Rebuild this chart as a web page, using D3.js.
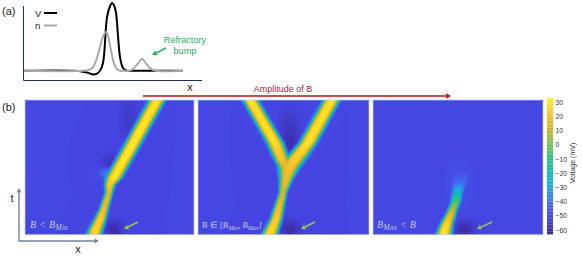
<!DOCTYPE html>
<html>
<head>
<meta charset="utf-8">
<script src="https://cdn.jsdelivr.net/npm/d3@7"></script>
<style>
  html, body { margin: 0; padding: 0; background: #fff; }
  svg { display: block; }
  text { font-family: "Liberation Sans", Arial, sans-serif; }
</style>
</head>
<body>
<svg id="chart" width="582" height="257"></svg>
<script>
// panel (a) traces
const traceX = [0, 50, 60, 66, 70, 74, 77, 80, 84, 87, 89, 91, 93, 95, 97, 100, 104, 108, 160];
const traceV = [0, 0, -1, -2.5, -4, -3, 0, 8.5, 58, 70, 73.5, 71, 63, 38, 15, 3, 0, 0, 0];
const nX = [0, 60, 66, 70, 74, 77, 80, 83, 85, 88, 91, 94, 97, 100, 106, 110, 115, 119, 123, 128, 133, 160];
const nV = [0, 0, 1, 4, 14, 26, 37, 42, 38, 22, 8, 2, 0, 0, 0, 2, 8, 13, 8, 2, 0, 0];

// panel (b) ridges: [t, x, half width, peak mV]
const ridgeLow = [
  [-4, 68, 7.5, 28], [15, 76, 5.5, 24], [26, 80, 4.2, 18], [42, 85, 3.6, 14], [50, 86, 5, 22],
  [57, 90, 7.5, 30], [89, 108, 7.5, 31], [139, 136, 7.5, 29]
];
const ridgeMidStem = [
  [-4, 70, 7.5, 28], [15, 78, 5.5, 24], [42, 85, 3.6, 12], [55, 88, 6, 18], [68, 91, 10, 21]
];
const ridgeMidRight = [
  [59, 89, 6, 15], [70, 93, 10, 22], [92, 110, 8, 29], [139, 136, 7.5, 29]
];
const ridgeMidLeft = [
  [66, 88, 6, 12], [75, 84, 7, 21], [92, 77, 7.5, 28], [139, 50, 7, 29]
];
const ridgeHigh = [
  [-4, 70, 7.5, 31], [10, 74, 6, 26], [22, 79, 4.5, 14], [32, 83, 4.5, -2],
  [42, 85, 5, -22], [52, 87, 7, -42], [62, 89, 9, -48]
];

// dark and light patches: [x, t, spread x, spread t, mV]
const patchLow = [[90, 5, 9, 9, -12], [85, 72, 7, 10, -8], [105, 115, 8, 25, -6], [82, 62, 6, 5, 14]];
const patchMid = [[92, 5, 10, 9, -12], [92, 95, 10, 28, -10]];
const patchHigh = [[92, 5, 10, 9, -12], [88, 50, 25, 40, 1.5]];

const colorTicks = [30, 20, 10, 0, -10, -20, -30, -40, -50, -60];
const colorStops = [-63, -57, -50, -42, -35, -28, -20, -10, 0, 10, 20, 32];
const colorValues = ['#3a2a9c', '#4038c4', '#4545e2', '#4468f0', '#2f8fe8', '#16aedc', '#10bdb0', '#2cc286', '#72c25a', '#c8b52c', '#f8bc30', '#fdf01c'];

const baseline = -50;
const svg = d3.select('#chart');
const navy = '#22305a';

const color = d3.scaleLinear().domain(colorStops).range(colorValues).clamp(true);

// -------- panel (a)
const ax = d3.scaleLinear().domain([0, 160]).range([23, 183]);
const ay = d3.scaleLinear().domain([-10, 73]).range([80, 3.5]);
const line = d3.line().curve(d3.curveCatmullRom);

svg.append('path').attr('fill', 'none').attr('stroke', '#000').attr('stroke-width', 2)
  .attr('d', line(traceX.map((d, i) => [ax(d), ay(traceV[i])])));
svg.append('path').attr('fill', 'none').attr('stroke', '#a9a9a9').attr('stroke-width', 2)
  .attr('d', line(nX.map((d, i) => [ax(d), ay(nV[i])])));

svg.append('path').attr('fill', 'none').attr('stroke', navy).attr('stroke-width', 1)
  .attr('d', 'M23.5,6V80.5H202');

svg.append('line').attr('x1', 44).attr('x2', 57).attr('y1', 13).attr('y2', 13).attr('stroke', '#000').attr('stroke-width', 2);
svg.append('line').attr('x1', 44).attr('x2', 57).attr('y1', 25.5).attr('y2', 25.5).attr('stroke', '#a9a9a9').attr('stroke-width', 2);

const label = (x, y, s, size, fill, anchor) => svg.append('text')
  .attr('x', x).attr('y', y).attr('font-size', size).attr('fill', fill || '#222')
  .attr('text-anchor', anchor || 'start').text(s);

label(2, 15, '(a)', 11);
label(2, 111, '(b)', 11);
label(35, 17, 'V', 9.5);
label(35, 29, 'n', 9.5);
label(190, 91, 'x', 11, '#222', 'middle');
label(185, 43, 'Refractory', 9.2, '#16b060', 'middle');
label(185, 54, 'bump', 9.2, '#16b060', 'middle');
label(283, 92, 'Amplitude of B', 9, '#b8203a', 'middle');

const arrow = (x1, y1, x2, y2, col, w, size) => {
  const a = Math.atan2(y2 - y1, x2 - x1);
  svg.append('line').attr('x1', x1).attr('y1', y1)
    .attr('x2', x2 - Math.cos(a) * size * 0.7).attr('y2', y2 - Math.sin(a) * size * 0.7)
    .attr('stroke', col).attr('stroke-width', w);
  const pts = [[x2, y2],
    [x2 - size * Math.cos(a - 0.5), y2 - size * Math.sin(a - 0.5)],
    [x2 - size * 0.7 * Math.cos(a), y2 - size * 0.7 * Math.sin(a)],
    [x2 - size * Math.cos(a + 0.5), y2 - size * Math.sin(a + 0.5)]];
  svg.append('polygon').attr('points', pts.join(' ')).attr('fill', col);
};

arrow(166, 48, 152, 55, '#16b060', 1.6, 6);
arrow(143, 96, 451, 96, '#c00d1e', 1.6, 6);

// -------- panel (b) heatmaps, built from the ridge tables with d3.contours
const gridW = 172;
const gridH = 136;

const ridgeField = (ridge) => {
  const ts = ridge.map(d => d[0]);
  return {
    t0: ts[0],
    t1: ts[ts.length - 1],
    x: d3.scaleLinear().domain(ts).range(ridge.map(d => d[1])),
    w: d3.scaleLinear().domain(ts).range(ridge.map(d => d[2])),
    peak: d3.scaleLinear().domain(ts).range(ridge.map(d => d[3]))
  };
};

const buildGrid = (ridges, patches) => {
  const fields = ridges.map(ridgeField);
  const values = new Array(gridW * gridH);
  for (let j = 0; j < gridH; j++) {
    const t = j;
    for (let i = 0; i < gridW; i++) {
      let v = baseline;
      fields.forEach(f => {
        if (t < f.t0 || t > f.t1) return;
        const d = Math.abs(i - f.x(t)) / f.w(t);
        const r = baseline + (f.peak(t) - baseline) * Math.exp(-Math.pow(d, 3.5));
        if (r > v) v = r;
      });
      let extra = 0;
      patches.forEach(p => {
        const dx = (i - p[0]) / p[2];
        const dt = (t - p[1]) / p[3];
        extra += p[4] * Math.exp(-dx * dx - dt * dt);
      });
      // patches only show on the resting blue, not on the pulse itself
      const keep = 1 - Math.min(1, Math.max(0, (v + 50) / 15));
      values[j * gridW + i] = v + extra * keep;
    }
  }
  return values;
};

const thresholds = d3.range(-66, 34, 1);

const panels = [
  { x: 25, w: 169, ridges: [ridgeLow], patches: patchLow, ax: [113, 99] },
  { x: 198, w: 171, ridges: [ridgeMidStem, ridgeMidRight, ridgeMidLeft], patches: patchMid, ax: [117, 103] },
  { x: 373, w: 170, ridges: [ridgeHigh], patches: patchHigh, ax: [119, 104] }
];
const panelTop = 100;
const panelH = 134.5;

panels.forEach((p) => {
  const g = svg.append('g').attr('transform', `translate(${p.x},${panelTop})`);
  const sx = p.w / gridW;
  const sy = panelH / gridH;
  const values = buildGrid(p.ridges, p.patches);
  const contours = d3.contours().size([gridW, gridH]).thresholds(thresholds)(values);
  // t grows upward, so flip the grid vertically
  const path = d3.geoPath(d3.geoTransform({
    point(x, y) { this.stream.point(x * sx, panelH - y * sy); }
  }));
  g.append('rect').attr('width', p.w).attr('height', panelH).attr('fill', color(-66));
  g.selectAll('path').data(contours).enter().append('path')
    .attr('d', path)
    .attr('fill', d => color(d.value + 0.5));
  g.append('rect').attr('width', p.w).attr('height', panelH).attr('fill', 'none')
    .attr('stroke', '#c9cbf5').attr('stroke-width', 0.7);
  arrow(p.x + p.ax[0], 222, p.x + p.ax[1], 229, '#9ac94e', 1.5, 5.5);
});

// inset math labels
const math = (x, size, spacing, parts) => {
  const t = svg.append('text').attr('x', x).attr('y', 228).attr('fill', '#c8cdf8')
    .style('font-family', '"Liberation Serif", serif').style('letter-spacing', spacing + 'px');
  parts.forEach(q => {
    t.append('tspan').attr('font-style', q[3] ? 'normal' : 'italic')
      .attr('font-size', q[1] ? size * 0.72 : size).attr('dy', q[1] ? 1.5 : (q[2] ? -1.5 : 0)).text(q[0]);
  });
};
math(30, 10, 0.3, [['B < B'], ['Min', 1]]);
math(202, 8.5, 0, [['B ∈ [B', 0, 0, 1], ['Min', 1], [', B', 0, 1], ['Max', 1], [']', 0, 1]]);
math(377, 10, 0.3, [['B'], ['Max', 1], [' < B', 0, 1]]);

// -------- axes sketch bottom left
const axisCol = '#76809c';
arrow(19, 241, 19, 188, axisCol, 1.4, 5.5);
arrow(18.5, 241, 99, 241, axisCol, 1.4, 5.5);
label(12, 202, 't', 11, '#222', 'middle');
label(78, 253, 'x', 11, '#222', 'middle');

// -------- colour bar
const barX = 547;
const barW = 6;
const cy = d3.scaleLinear().domain([-60, 30]).range([230, 102]);
const barVals = d3.range(-63, 32.5, 1);
svg.selectAll('.bar').data(barVals).enter().append('rect')
  .attr('class', 'bar')
  .attr('x', barX).attr('width', barW)
  .attr('y', d => cy(d + 1)).attr('height', cy(-60) - cy(-58.9))
  .attr('fill', d => color(d));

const axisG = svg.append('g').attr('transform', `translate(${barX + barW},0)`)
  .call(d3.axisRight(cy).tickValues(colorTicks).tickSize(0).tickPadding(2.5));
axisG.select('.domain').remove();
axisG.selectAll('text').attr('font-size', 6.8).attr('fill', '#333')
  .style('font-family', '"Liberation Sans", Arial, sans-serif');

svg.append('text').attr('transform', 'translate(575,163) rotate(-90)')
  .attr('text-anchor', 'middle').attr('font-size', 7).attr('fill', '#333').text('Voltage (mV)');
</script>
</body>
</html>
